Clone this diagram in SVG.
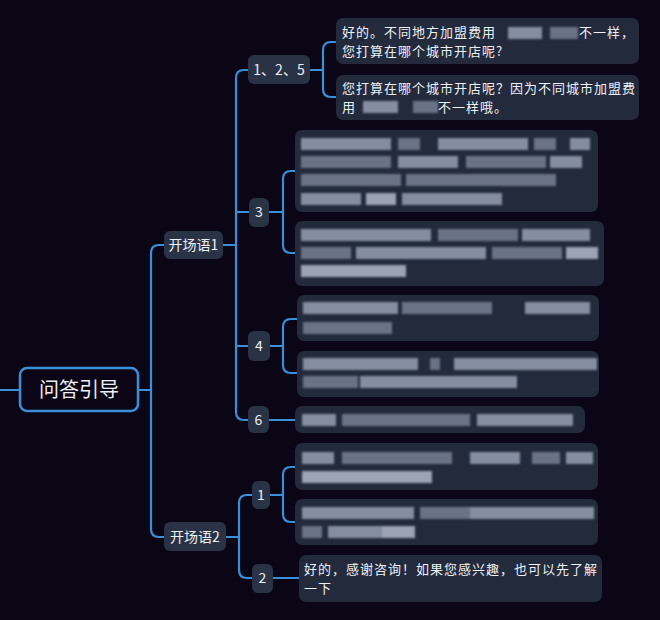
<svg xmlns="http://www.w3.org/2000/svg" width="660" height="620" viewBox="0 0 660 620">
<defs>
<style>
.conn{fill:none;stroke:#3a8fd8;stroke-width:2.2;stroke-linecap:round}
.node rect{fill:#2a3245}
.leaf rect.bg{fill:#222a3c}
.t{font-family:"Noto Sans CJK SC","Noto Sans",sans-serif;fill:#eef0f6}
.n{font-size:14px;text-anchor:middle}
.lt{font-size:13px;letter-spacing:1px}
.bl{filter:url(#blur)}
.b1{fill:#858da0}
.b2{fill:#6b7386}
.b3{fill:#9ca3b3}
</style>
<filter id="blur" x="-5%" y="-30%" width="110%" height="160%"><feGaussianBlur stdDeviation="1.2"/></filter>
</defs>
<rect width="660" height="620" fill="#0a0615"/>
<g id="connectors">
<path class="conn" d="M0,390 H20"/>
<path class="conn" d="M138,390 H151"/>
<path class="conn" d="M164,245 H159 Q151,245 151,253 V529 Q151,537 159,537 H164"/>
<path class="conn" d="M223,245 H236"/>
<path class="conn" d="M248,70 H244 Q236,70 236,78 V412 Q236,420 244,420 H248"/>
<path class="conn" d="M236,212 H249"/>
<path class="conn" d="M236,346 H248"/>
<path class="conn" d="M269,420 H295"/>
<path class="conn" d="M310,70 H323"/>
<path class="conn" d="M336,42 H331 Q323,42 323,50 V89 Q323,97 331,97 H336"/>
<path class="conn" d="M269,212 H283"/>
<path class="conn" d="M295,171 H291 Q283,171 283,179 V245 Q283,253 291,253 H295"/>
<path class="conn" d="M270,346 H283"/>
<path class="conn" d="M297,319 H291 Q283,319 283,327 V365 Q283,373 291,373 H297"/>
<path class="conn" d="M226,537 H239"/>
<path class="conn" d="M252,495 H247 Q239,495 239,503 V570 Q239,578 247,578 H252"/>
<path class="conn" d="M270,495 H283"/>
<path class="conn" d="M295,467 H291 Q283,467 283,475 V514 Q283,522 291,522 H295"/>
<path class="conn" d="M273,578 H299"/>
</g>
<g id="root">
<rect x="20" y="368" width="118" height="43" rx="7" fill="#0a0615" stroke="#3a8fd8" stroke-width="2.5"/>
<text class="t" x="79" y="397" font-size="20" text-anchor="middle">问答引导</text>
</g>
<g id="kcy1" class="node">
<rect x="164" y="231" width="59" height="28" rx="6"/>
<text class="t n" x="193.5" y="250">开场语1</text>
</g>
<g id="kcy2" class="node">
<rect x="164" y="522" width="62" height="29" rx="6"/>
<text class="t n" x="195" y="542">开场语2</text>
</g>
<g id="n125" class="node">
<rect x="248" y="55" width="62" height="29" rx="6"/>
<text class="t n" x="279" y="75">1、2、5</text>
</g>
<g id="n3" class="node">
<rect x="249" y="198" width="20" height="29" rx="6"/>
<text class="t n" x="259" y="217">3</text>
</g>
<g id="n4" class="node">
<rect x="248" y="331" width="22" height="30" rx="6"/>
<text class="t n" x="259" y="351">4</text>
</g>
<g id="n6" class="node">
<rect x="248" y="406" width="21" height="27" rx="6"/>
<text class="t n" x="258.5" y="425">6</text>
</g>
<g id="n1b" class="node">
<rect x="252" y="481" width="18" height="28" rx="6"/>
<text class="t n" x="261" y="500">1</text>
</g>
<g id="n2b" class="node">
<rect x="252" y="564" width="21" height="29" rx="6"/>
<text class="t n" x="262.5" y="583">2</text>
</g>
<g id="leafA" class="leaf">
<rect class="bg" x="336" y="18" width="303" height="46" rx="7"/>
<text class="t lt" x="342" y="37">好的。不同地方加盟费用</text>
<g class="bl"><rect class="b1" x="508" y="27" width="34" height="12"/><rect class="b2" x="550" y="27" width="28" height="12"/></g>
<text class="t lt" x="579" y="37">不一样，</text>
<text class="t lt" x="342" y="56">您打算在哪个城市开店呢?</text>
</g>
<g id="leafB" class="leaf">
<rect class="bg" x="336" y="75" width="303" height="45" rx="7"/>
<text class="t lt" x="342" y="93">您打算在哪个城市开店呢？因为不同城市加盟费</text>
<text class="t lt" x="342" y="112">用</text>
<g class="bl"><rect class="b1" x="363" y="101" width="35" height="12"/><rect class="b2" x="413" y="101" width="25" height="12"/></g>
<text class="t lt" x="438" y="112">不一样哦。</text>
</g>
<g id="leaf3a" class="leaf">
<rect class="bg" x="295" y="130" width="303" height="82" rx="7"/>
<g class="bl">
<rect class="b1" x="301" y="138" width="90" height="12"/><rect class="b2" x="398" y="138" width="22" height="12"/><rect class="b1" x="438" y="138" width="90" height="12"/><rect class="b2" x="534" y="138" width="22" height="12"/><rect class="b1" x="570" y="138" width="20" height="12"/>
<rect class="b2" x="301" y="156" width="90" height="12"/><rect class="b1" x="398" y="156" width="60" height="12"/><rect class="b2" x="466" y="156" width="80" height="12"/><rect class="b1" x="550" y="156" width="32" height="12"/>
<rect class="b2" x="301" y="174" width="100" height="12"/><rect class="b2" x="406" y="174" width="150" height="12"/>
<rect class="b1" x="301" y="193" width="60" height="12"/><rect class="b3" x="366" y="193" width="30" height="12"/><rect class="b1" x="402" y="193" width="100" height="12"/>
</g>
</g>
<g id="leaf3b" class="leaf">
<rect class="bg" x="295" y="221" width="309" height="65" rx="7"/>
<g class="bl">
<rect class="b1" x="301" y="229" width="130" height="12"/><rect class="b2" x="438" y="229" width="80" height="12"/><rect class="b1" x="522" y="229" width="68" height="12"/>
<rect class="b2" x="301" y="247" width="50" height="12"/><rect class="b1" x="356" y="247" width="130" height="12"/><rect class="b2" x="492" y="247" width="70" height="12"/><rect class="b3" x="566" y="247" width="32" height="12"/>
<rect class="b3" x="301" y="265" width="105" height="12"/>
</g>
</g>
<g id="leaf4a" class="leaf">
<rect class="bg" x="297" y="295" width="302" height="46" rx="7"/>
<g class="bl">
<rect class="b1" x="303" y="302" width="95" height="12"/><rect class="b2" x="402" y="302" width="90" height="12"/><rect class="b1" x="525" y="302" width="65" height="12"/>
<rect class="b2" x="303" y="322" width="89" height="12"/>
</g>
</g>
<g id="leaf4b" class="leaf">
<rect class="bg" x="297" y="351" width="302" height="46" rx="7"/>
<g class="bl">
<rect class="b1" x="303" y="358" width="115" height="12"/><rect class="b2" x="430" y="358" width="10" height="12"/><rect class="b1" x="454" y="358" width="143" height="12"/>
<rect class="b2" x="303" y="376" width="55" height="12"/><rect class="b1" x="360" y="376" width="157" height="12"/>
</g>
</g>
<g id="leaf6" class="leaf">
<rect class="bg" x="295" y="406" width="290" height="27" rx="7"/>
<g class="bl">
<rect class="b1" x="302" y="414" width="34" height="12"/><rect class="b2" x="342" y="414" width="128" height="12"/><rect class="b1" x="477" y="414" width="96" height="12"/>
</g>
</g>
<g id="leaf1a" class="leaf">
<rect class="bg" x="295" y="443" width="303" height="47" rx="7"/>
<g class="bl">
<rect class="b1" x="302" y="452" width="32" height="12"/><rect class="b2" x="342" y="452" width="110" height="12"/><rect class="b1" x="470" y="452" width="50" height="12"/><rect class="b2" x="532" y="452" width="28" height="12"/><rect class="b1" x="566" y="452" width="27" height="12"/>
<rect class="b3" x="302" y="471" width="130" height="12"/>
</g>
</g>
<g id="leaf1b" class="leaf">
<rect class="bg" x="295" y="499" width="303" height="46" rx="7"/>
<g class="bl">
<rect class="b1" x="302" y="507" width="112" height="12"/><rect class="b2" x="420" y="507" width="50" height="12"/><rect class="b1" x="470" y="507" width="124" height="12"/>
<rect class="b2" x="302" y="526" width="20" height="12"/><rect class="b1" x="328" y="526" width="55" height="12"/><rect class="b3" x="382" y="526" width="33" height="12"/>
</g>
</g>
<g id="leaf2b" class="leaf">
<rect class="bg" x="299" y="555" width="303" height="47" rx="7"/>
<text class="t lt" x="304" y="574">好的，感谢咨询！如果您感兴趣，也可以先了解</text>
<text class="t lt" x="304" y="593">一下</text>
</g>
</svg>
